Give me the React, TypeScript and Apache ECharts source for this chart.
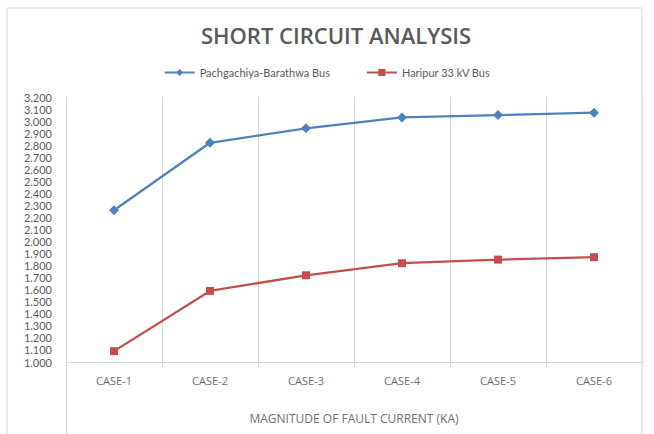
import React, { useEffect, useRef } from "react";
import * as echarts from "echarts";

const categories = ["CASE-1", "CASE-2", "CASE-3", "CASE-4", "CASE-5", "CASE-6"];
const pachgachiya = [2.26, 2.82, 2.94, 3.03, 3.05, 3.07];
const haripur = [1.09, 1.59, 1.72, 1.82, 1.85, 1.87];
const seriesNames = ["Pachgachiya-Barathwa Bus", "Haripur 33 kV Bus"];
const titleText = "SHORT CIRCUIT ANALYSIS";
const xAxisName = "MAGNITUDE OF FAULT CURRENT (KA)";

export default function App() {
  const ref = useRef<HTMLDivElement>(null);
  useEffect(() => {
    if (!ref.current) return;
    const chart = echarts.init(ref.current, null, { renderer: "svg" });
    const font = "Lato, 'Open Sans', sans-serif";
    const wide = "'Open Sans', Lato, sans-serif";
    chart.setOption({
      animation: false,
      backgroundColor: "#ffffff",
      textStyle: { fontFamily: font },
      title: {
        text: titleText,
        left: 331,
        textAlign: "center",
        top: 19,
        textStyle: { fontFamily: wide, fontSize: 22, fontWeight: 600, color: "#595959" },
      },
      legend: {
        top: 62,
        left: "center",
        itemGap: 36,
        itemWidth: 30,
        itemHeight: 9,
        textStyle: { fontFamily: font, fontSize: 11, color: "#595959" },
        data: seriesNames,
      },
      grid: { left: 66, right: 12, top: 97, bottom: 72, containLabel: false },
      xAxis: {
        type: "category",
        data: categories,
        boundaryGap: true,
        name: xAxisName,
        nameLocation: "middle",
        nameGap: 50,
        nameTextStyle: { fontFamily: wide, fontSize: 12, color: "#6f6f6f" },
        axisLine: { lineStyle: { color: "#d9d9d9", width: 1 } },
        axisTick: { show: true, length: 5, lineStyle: { color: "#d9d9d9" } },
        axisLabel: { fontFamily: wide, fontSize: 11, color: "#6f6f6f", margin: 13 },
        splitLine: { show: true, lineStyle: { color: "#d9d9d9", width: 1 } },
      },
      yAxis: {
        type: "value",
        min: 1,
        max: 3.2,
        interval: 0.1,
        axisLine: { show: true, lineStyle: { color: "#d9d9d9", width: 1 } },
        axisTick: { show: false },
        splitLine: { show: false },
        axisLabel: {
          fontFamily: font,
          fontSize: 11,
          color: "#595959",
          margin: 14,
          formatter: (v: number) => v.toFixed(3),
        },
      },
      series: [
        {
          name: seriesNames[0],
          type: "line",
          data: pachgachiya,
          symbol: "diamond",
          symbolSize: 10,
          lineStyle: { color: "#4f81bd", width: 2.25 },
          itemStyle: { color: "#4f81bd" },
        },
        {
          name: seriesNames[1],
          type: "line",
          data: haripur,
          symbol: "rect",
          symbolSize: 8,
          lineStyle: { color: "#c0504d", width: 2.25 },
          itemStyle: { color: "#c0504d" },
        },
      ],
      graphic: [
        {
          type: "rect",
          shape: { x: 7, y: 8, width: 635, height: 440 },
          style: { fill: "none", stroke: "#d9d9d9", lineWidth: 1 },
          silent: true,
        },
        {
          type: "line",
          shape: { x1: 66.5, y1: 362, x2: 66.5, y2: 434 },
          style: { stroke: "#d9d9d9", lineWidth: 1 },
          silent: true,
        },
      ],
    });
    return () => chart.dispose();
  }, []);
  return (
    <div
      ref={ref}
      style={{ position: "fixed", left: 0, top: 0, width: 654, height: 434, background: "#fff" }}
    />
  );
}
